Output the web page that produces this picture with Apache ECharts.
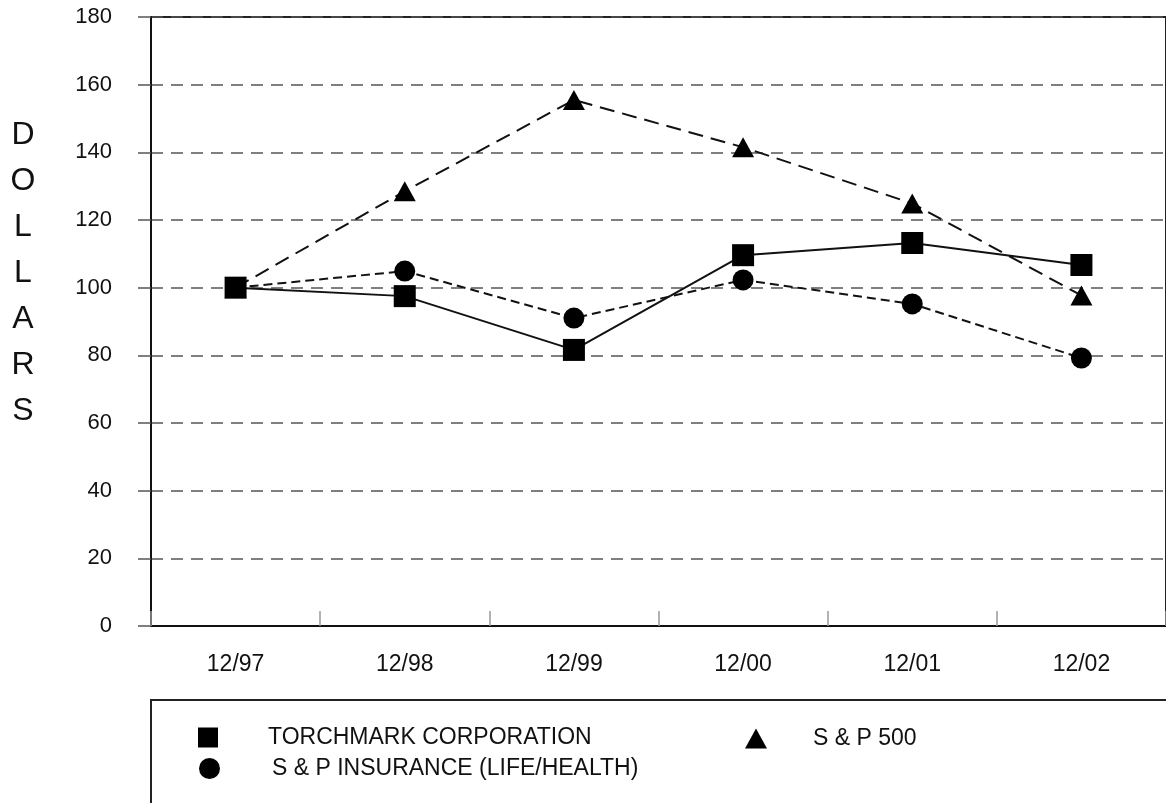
<!DOCTYPE html>
<html>
<head>
<meta charset="utf-8">
<script src="https://cdn.jsdelivr.net/npm/echarts@6/dist/echarts.min.js"></script>
<style>
html,body{margin:0;padding:0;background:#fff;}
#chart{width:1166px;height:803px;}
</style>
</head>
<body>
<div id="chart"></div>
<script>
const categories = ['12/97', '12/98', '12/99', '12/00', '12/01', '12/02'];
const torchmark = [100, 97.5, 81.6, 109.6, 113.2, 106.7];
const sp500 = [100, 128.5, 155.5, 141.5, 124.9, 97.7];
const spInsurance = [100, 104.9, 91.0, 102.3, 95.2, 79.2];
const seriesNames = ['TORCHMARK CORPORATION', 'S & P 500', 'S & P INSURANCE (LIFE/HEALTH)'];
const yTitle = 'DOLLARS';

const FONT = '"Liberation Sans", Arial, Helvetica, sans-serif';
const chart = echarts.init(document.getElementById('chart'));

const option = {
  animation: false,
  backgroundColor: '#fff',
  textStyle: { fontFamily: FONT, color: '#111' },
  grid: {
    left: 151, top: 17, right: -7, bottom: 177,
    show: true, borderColor: '#222', borderWidth: 2, backgroundColor: 'transparent'
  },
  xAxis: {
    type: 'category',
    data: categories,
    boundaryGap: true,
    axisLine: { show: true, lineStyle: { color: '#111', width: 2 } },
    axisTick: { show: true, inside: true, length: 15, lineStyle: { color: '#999', width: 1.5 } },
    axisLabel: { margin: 27, fontSize: 23, color: '#111', fontFamily: FONT },
    splitLine: { show: false }
  },
  yAxis: {
    type: 'value',
    min: 0, max: 180, interval: 20,
    axisLine: { show: true, lineStyle: { color: '#111', width: 2 } },
    axisTick: { show: true, length: 13, lineStyle: { color: '#555', width: 1.5 } },
    axisLabel: { margin: 39, fontSize: 22, color: '#111', fontFamily: FONT },
    splitLine: { show: true, lineStyle: { color: '#555', width: 1.5, type: [12, 8] } }
  },
  legend: [
    {
      data: [seriesNames[0]], icon: 'rect', itemWidth: 20, itemHeight: 20,
      left: 198, top: 726, padding: 0,
      textStyle: { fontSize: 23, color: '#111', fontFamily: FONT, padding: [0, 0, 0, 45] }
    },
    {
      data: [seriesNames[1]], icon: 'triangle', itemWidth: 22, itemHeight: 20,
      left: 745, top: 727, padding: 0,
      textStyle: { fontSize: 23, color: '#111', fontFamily: FONT, padding: [0, 0, 0, 41] }
    },
    {
      data: [seriesNames[2]], icon: 'circle', itemWidth: 21, itemHeight: 21,
      left: 199, top: 757, padding: 0,
      textStyle: { fontSize: 23, color: '#111', fontFamily: FONT, padding: [0, 0, 0, 47] }
    }
  ],
  graphic: [
    {
      type: 'text', x: 23, y: 112,
      style: {
        text: yTitle.split('').join('\n'),
        font: '32px ' + FONT, fill: '#111',
        textAlign: 'center', textVerticalAlign: 'top', lineHeight: 46
      }
    },
    {
      type: 'rect', shape: { x: 151, y: 700, width: 1100, height: 200 },
      style: { fill: 'none', stroke: '#222', lineWidth: 2 }, silent: true
    }
  ],
  series: [
    {
      name: seriesNames[1], type: 'line', data: sp500, z: 2,
      symbol: 'triangle', symbolSize: [22, 20],
      itemStyle: { color: '#000' },
      lineStyle: { color: '#111', width: 2, type: [15, 8] }
    },
    {
      name: seriesNames[2], type: 'line', data: spInsurance, z: 3,
      symbol: 'circle', symbolSize: 21,
      itemStyle: { color: '#000' },
      lineStyle: { color: '#111', width: 2, type: [9, 5] }
    },
    {
      name: seriesNames[0], type: 'line', data: torchmark, z: 4,
      symbol: 'rect', symbolSize: 22,
      itemStyle: { color: '#000' },
      lineStyle: { color: '#111', width: 2, type: 'solid' }
    }
  ]
};
chart.setOption(option);
</script>
</body>
</html>
